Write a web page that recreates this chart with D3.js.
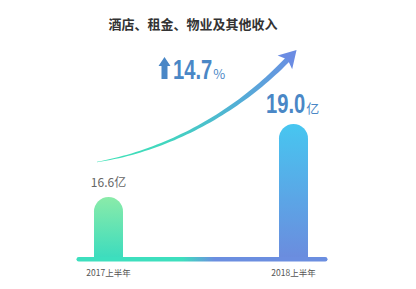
<!DOCTYPE html>
<html>
<head>
<meta charset="utf-8">
<script src="https://cdn.jsdelivr.net/npm/d3@7"></script>
<style>
  body { margin: 0; background: #fff; }
  text { font-family: "Noto Sans CJK SC", "Noto Sans", sans-serif; }
</style>
</head>
<body>
<div id="chart"></div>
<script>
const categories = ['2017上半年', '2018上半年'];
const values = [16.6, 19.0];
const unit = '亿';
const growth = '14.7';
const title = '酒店、租金、物业及其他收入';

const W = 416, H = 289;
const svg = d3.select('#chart').append('svg')
  .attr('width', W)
  .attr('height', H);
const defs = svg.append('defs');

const x = d3.scalePoint().domain(categories).range([108.5, 293.5]);
const y = d3.scaleLinear().domain([14.6, 19.0]).range([258, 124]);
const barW = 29;

// gradients
function vGrad(id, top, bottom) {
  const g = defs.append('linearGradient').attr('id', id)
    .attr('x1', 0).attr('y1', 0).attr('x2', 0).attr('y2', 1);
  g.append('stop').attr('offset', '0%').attr('stop-color', top);
  g.append('stop').attr('offset', '100%').attr('stop-color', bottom);
}
vGrad('bar0', '#8aeba9', '#3cdcbe');
vGrad('bar1', '#47c6f0', '#6b8cde');

const x0 = x.range()[0] - 32, x1 = x.range()[1] + 34;
const base = defs.append('linearGradient').attr('id', 'base')
  .attr('gradientUnits', 'userSpaceOnUse')
  .attr('x1', x0).attr('x2', x1).attr('y1', 0).attr('y2', 0);
base.append('stop').attr('offset', '0.42').attr('stop-color', '#3ddfbe');
base.append('stop').attr('offset', '0.55').attr('stop-color', '#6b8ee0');

svg.append('text')
  .attr('x', 193).attr('y', 29)
  .attr('text-anchor', 'middle')
  .attr('fill', '#333')
  .style('font-size', '13px')
  .style('font-weight', 'bold')
  .text(title);

// bars
const r = barW / 2;
svg.selectAll('.bar')
  .data(values)
  .enter()
  .append('path')
  .attr('class', 'bar')
  .attr('fill', (d, i) => 'url(#bar' + i + ')')
  .attr('d', (d, i) => {
    const cx = x(categories[i]), top = y(d), bot = y.range()[0];
    const l = cx - r, rr = cx + r;
    return `M${l},${bot}V${top + r}A${r},${r} 0 0 1 ${rr},${top + r}V${bot}Z`;
  });

// baseline
svg.append('rect')
  .attr('x', x0).attr('y', y.range()[0] - 1)
  .attr('width', x1 - x0).attr('height', 4.5)
  .attr('rx', 2.2)
  .attr('fill', 'url(#base)');

// value labels
svg.append('text')
  .attr('x', x(categories[0])).attr('y', y(values[0]) - 10)
  .attr('text-anchor', 'middle')
  .attr('fill', '#666')
  .style('font-size', '12px')
  .text(values[0].toFixed(1) + unit);

// condensed bold number followed by a small suffix
function bigNumber(px, py, num, suffix) {
  const g = svg.append('g').attr('fill', '#4a87c6');
  const t = g.append('text')
    .attr('transform', `translate(${px},${py}) scale(0.72,1)`)
    .style('font-family', '"Liberation Sans", Arial, sans-serif')
    .style('font-weight', 'bold')
    .style('font-size', '28px')
    .text(num);
  const w = t.node().getComputedTextLength() * 0.72;
  g.append('text')
    .attr('x', px + w + 1).attr('y', py)
    .style('font-size', '13px')
    .text(suffix);
}
bigNumber(x(categories[1]) - 27.5, y(values[1]) - 11, values[1].toFixed(1), unit);

// axis labels
svg.selectAll('.cat')
  .data(categories)
  .enter()
  .append('text')
  .attr('class', 'cat')
  .attr('x', d => x(d))
  .attr('y', 276)
  .attr('text-anchor', 'middle')
  .attr('fill', '#555')
  .style('font-size', '8.5px')
  .text(d => d);

// growth label with up arrow
const gx = 159, gy = 79;
svg.append('path')
  .attr('fill', '#4a87c6')
  .attr('d', `M${gx + 5.5},${gy - 22}L${gx + 11.5},${gy - 13}H${gx + 8.5}V${gy}H${gx + 2.5}V${gy - 13}H${gx - 0.5}Z`);
bigNumber(gx + 14, gy, growth, '%');

// trend arrow: tapered curve
const P = [[97, 162], [170, 150], [240, 110], [289, 58]];
const bez = (t, k) => {
  const u = 1 - t;
  return u * u * u * P[0][k] + 3 * u * u * t * P[1][k] + 3 * u * t * t * P[2][k] + t * t * t * P[3][k];
};
const dbez = (t, k) => {
  const u = 1 - t;
  return 3 * u * u * (P[1][k] - P[0][k]) + 6 * u * t * (P[2][k] - P[1][k]) + 3 * t * t * (P[3][k] - P[2][k]);
};
const left = [], right = [];
d3.range(0, 1.0001, 0.02).forEach(t => {
  const px = bez(t, 0), py = bez(t, 1);
  let dx = dbez(t, 0), dy = dbez(t, 1);
  const len = Math.hypot(dx, dy);
  dx /= len; dy /= len;
  const w = 0.2 + 2.6 * Math.pow(t, 0.8);
  left.push([px - dy * w, py + dx * w]);
  right.push([px + dy * w, py - dx * w]);
});
const ag = defs.append('linearGradient').attr('id', 'arrow')
  .attr('gradientUnits', 'userSpaceOnUse')
  .attr('x1', 97).attr('y1', 162).attr('x2', 300).attr('y2', 50);
ag.append('stop').attr('offset', '0%').attr('stop-color', '#3de3b6');
ag.append('stop').attr('offset', '30%').attr('stop-color', '#42d6bf');
ag.append('stop').attr('offset', '65%').attr('stop-color', '#52afd6');
ag.append('stop').attr('offset', '100%').attr('stop-color', '#6d8be4');

svg.append('path')
  .attr('fill', 'url(#arrow)')
  .attr('d', d3.line()(left.concat(right.reverse())) + 'Z');

// arrow head
const ex = P[3][0], ey = P[3][1];
let tx = dbez(1, 0), ty = dbez(1, 1);
const tl = Math.hypot(tx, ty); tx /= tl; ty /= tl;
const headL = 17, headW = 10;
const tip = [ex + tx * (headL - 6), ey + ty * (headL - 6)];
const back = [ex - tx * 6, ey - ty * 6];
svg.append('path')
  .attr('fill', '#6b8ce3')
  .attr('d', d3.line()([
    tip,
    [back[0] - ty * headW, back[1] + tx * headW],
    [ex - tx * 2, ey - ty * 2],
    [back[0] + ty * headW, back[1] - tx * headW]
  ]) + 'Z');
</script>
</body>
</html>
